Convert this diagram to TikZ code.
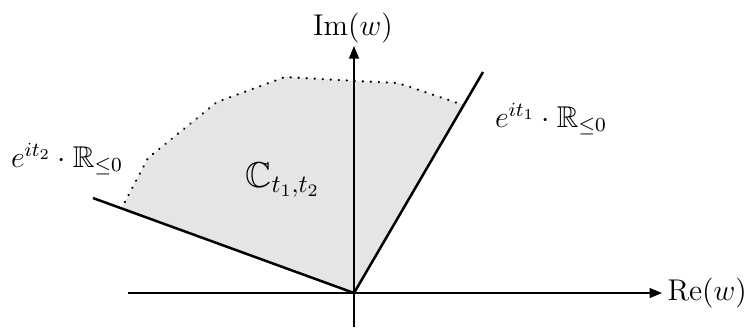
\documentclass[tikz,border=0pt]{standalone}
\usepackage{amssymb}
\usetikzlibrary{arrows.meta}
\begin{document}
\begin{tikzpicture}[x=0.4pt,y=-0.4pt,
  axis/.style={line width=0.45pt,-{Triangle[length=5pt,width=4pt]}},
  ray/.style={line width=1pt},
  bound/.style={line width=1pt,dash pattern=on 0.01pt off 3.2pt,line cap=round},
  lbl/.style={inner sep=0pt,font=\large}]
\useasboundingbox (0,0) rectangle (745,329);
\coordinate (O) at (354,293);
\coordinate (R1) at (483,72);
\coordinate (R2) at (93,198);
\coordinate (P1) at (463.5,105);
\coordinate (P2) at (122,207.5);
\fill[black!10] (O) -- (P1) -- (398,83) -- (357,81) -- (285,77) -- (217,102) -- (148,158) -- (P2) -- cycle;
\coordinate (XL) at (128,293);
\coordinate (XR) at (662,293);
\coordinate (YB) at (354,327);
\coordinate (YT) at (354,46);
\draw[axis] (XL) -- (XR);
\draw[axis] (YB) -- (YT);
\draw[bound] (P1) -- (398,83) -- (357,81) -- (285,77) -- (217,102) -- (148,158) -- (P2);
\draw[ray] (R2) -- (O) -- (R1);
\node[lbl,anchor=west] (re) at (667,293) {$\mathrm{Re}(w)$};
\node[lbl] (im) at (353,28) {$\mathrm{Im}(w)$};
\node[lbl] (l1) at (551,119) {$e^{it_1}\cdot\mathbb{R}_{\leq 0}$};
\node[lbl] (l2) at (67,159) {$e^{it_2}\cdot\mathbb{R}_{\leq 0}$};
\node[lbl,font=\Large,anchor=base west] (c) at (245,187) {$\mathbb{C}_{t_1,t_2}$};
\end{tikzpicture}
\end{document}
